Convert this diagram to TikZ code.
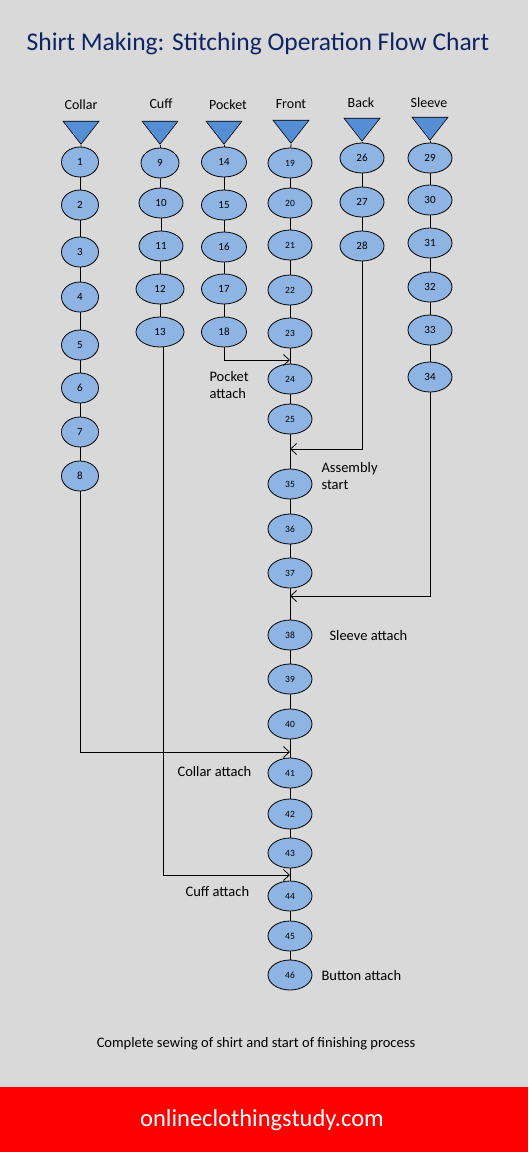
\documentclass[tikz,border=0pt]{standalone}
\usepackage{fontspec}
\setmainfont{Carlito}
\usetikzlibrary{arrows.meta,shapes.geometric,calc}
\definecolor{bg}{RGB}{217,217,217}
\definecolor{ovalfill}{RGB}{141,180,226}
\definecolor{trifill}{RGB}{85,142,213}
\definecolor{titlec}{RGB}{14,36,100}
\definecolor{footred}{RGB}{255,0,0}
\begin{document}
\begin{tikzpicture}[x=1pt,y=-1pt,
  op/.style={ellipse,draw=black,line width=0.8pt,fill=ovalfill,minimum width=44pt,minimum height=30pt,inner sep=0pt,font=\fontsize{11}{12}\selectfont},
  fop/.style={op,font=\fontsize{9.5}{10}\selectfont},
  src/.style={isosceles triangle,isosceles triangle stretches,shape border rotate=270,draw=black,line width=0.6pt,fill=trifill,minimum width=36pt,minimum height=23pt,inner sep=0pt},
  lbl/.style={font=\fontsize{14}{16}\selectfont},
  note/.style={font=\fontsize{14.5}{17}\selectfont,align=left,anchor=west},
  conn/.style={line width=0.8pt},
  arr/.style={line width=0.8pt,-{Straight Barb[length=6pt,width=11pt]}},
]
\fill[bg] (0,0) rectangle (528,1152);
\fill[footred] (0,1087) rectangle (528,1152);
\node[font=\fontsize{25.5}{28}\selectfont,text=titlec] (title) at (258,44) {Shirt Making: Stitching Operation Flow Chart};
\node[font=\fontsize{24.5}{28}\selectfont,text=white] (site) at (262,1120) {onlineclothingstudy.com};
\node[font=\fontsize{14.5}{17}\selectfont] (final) at (256,1044) {Complete sewing of shirt and start of finishing process};

% column headings
\node[lbl] (hcollar) at (81,105) {Collar};
\node[lbl] (hcuff) at (161,104) {Cuff};
\node[lbl] (hpocket) at (228,105) {Pocket};
\node[lbl] (hfront) at (291,104) {Front};
\node[lbl] (hback) at (361,103) {Back};
\node[lbl] (hsleeve) at (429,103) {Sleeve};

% source triangles
\node[src] (tcollar) at (81,130) {};
\node[src] (tcuff) at (160,130) {};
\node[src] (tpocket) at (224,130) {};
\node[src] (tfront) at (291,129) {};
\node[src] (tback) at (362,127) {};
\node[src] (tsleeve) at (430,126) {};

% collar
\foreach \n/\y in {1/162,2/205,3/252,4/297,5/345,6/388,7/432,8/476}
  \node[op,minimum width=37pt] (n\n) at (80,\y) {\n};
% cuff
\node[op,minimum width=38pt] (n9) at (160,163) {9};
\node[op] (n10) at (161,203) {10};
\node[op] (n11) at (161,246) {11};
\node[op,minimum width=48pt] (n12) at (160,289) {12};
\node[op,minimum width=48pt] (n13) at (160,332) {13};
% pocket
\foreach \n/\y in {14/162,15/205,16/247,17/289,18/332}
  \node[op,minimum width=45pt] (n\n) at (224,\y) {\n};
% front
\foreach \n/\y in {19/163,20/203,21/245,22/290,23/333,24/379,25/419,35/484,36/529,37/573,38/635,39/679,40/724,41/773,42/814,43/853,44/896,45/936,46/975}
  \node[fop] (n\n) at (290,\y) {\n};
% back
\foreach \n/\y in {26/158,27/202,28/246}
  \node[op] (n\n) at (362,\y) {\n};
% sleeve
\foreach \n/\y in {29/158,30/200,31/243,32/287,33/330,34/377}
  \node[op] (n\n) at (430,\y) {\n};

% vertical links
\draw[conn] (tcollar.apex) -- (n1);
\foreach \a/\b in {1/2,2/3,3/4,4/5,5/6,6/7,7/8} \draw[conn] (n\a) -- (n\b);
\draw[conn] (tcuff.apex) -- (n9);
\foreach \a/\b in {9/10,10/11,11/12,12/13} \draw[conn] (n\a) -- (n\b);
\draw[conn] (tpocket.apex) -- (n14);
\foreach \a/\b in {14/15,15/16,16/17,17/18} \draw[conn] (n\a) -- (n\b);
\draw[conn] (tfront.apex) -- (n19);
\foreach \a/\b in {19/20,20/21,21/22,22/23,23/24,24/25,25/35,35/36,36/37,37/38,38/39,39/40,40/41,41/42,42/43,43/44,44/45,45/46} \draw[conn] (n\a) -- (n\b);
\draw[conn] (tback.apex) -- (n26);
\foreach \a/\b in {26/27,27/28} \draw[conn] (n\a) -- (n\b);
\draw[conn] (tsleeve.apex) -- (n29);
\foreach \a/\b in {29/30,30/31,31/32,32/33,33/34} \draw[conn] (n\a) -- (n\b);

% joining points on the front line
\coordinate (jpocket) at (290,360);
\coordinate (jback) at (290,449);
\coordinate (jsleeve) at (290,596);
\coordinate (jcollar) at (290,752);
\coordinate (jcuff) at (290,875);

\draw[arr] (n18.south) |- (jpocket);
\draw[arr] (n28.south) |- (jback);
\draw[arr] (n34.south) |- (jsleeve);
\draw[arr] (n8.south) |- (jcollar);
\draw[arr] ([xshift=3pt]n13.south) |- (jcuff);

% notes
\node[note] (lpocket) at (206,385) {Pocket\\attach};
\node[note] (lassembly) at (318,476) {Assembly\\start};
\node[note] (lsleeve) at (326,636) {Sleeve attach};
\node[note] (lcollar) at (174,772) {Collar attach};
\node[note] (lcuff) at (182,892) {Cuff attach};
\node[note] (lbutton) at (318,976) {Button attach};
\end{tikzpicture}
\end{document}
